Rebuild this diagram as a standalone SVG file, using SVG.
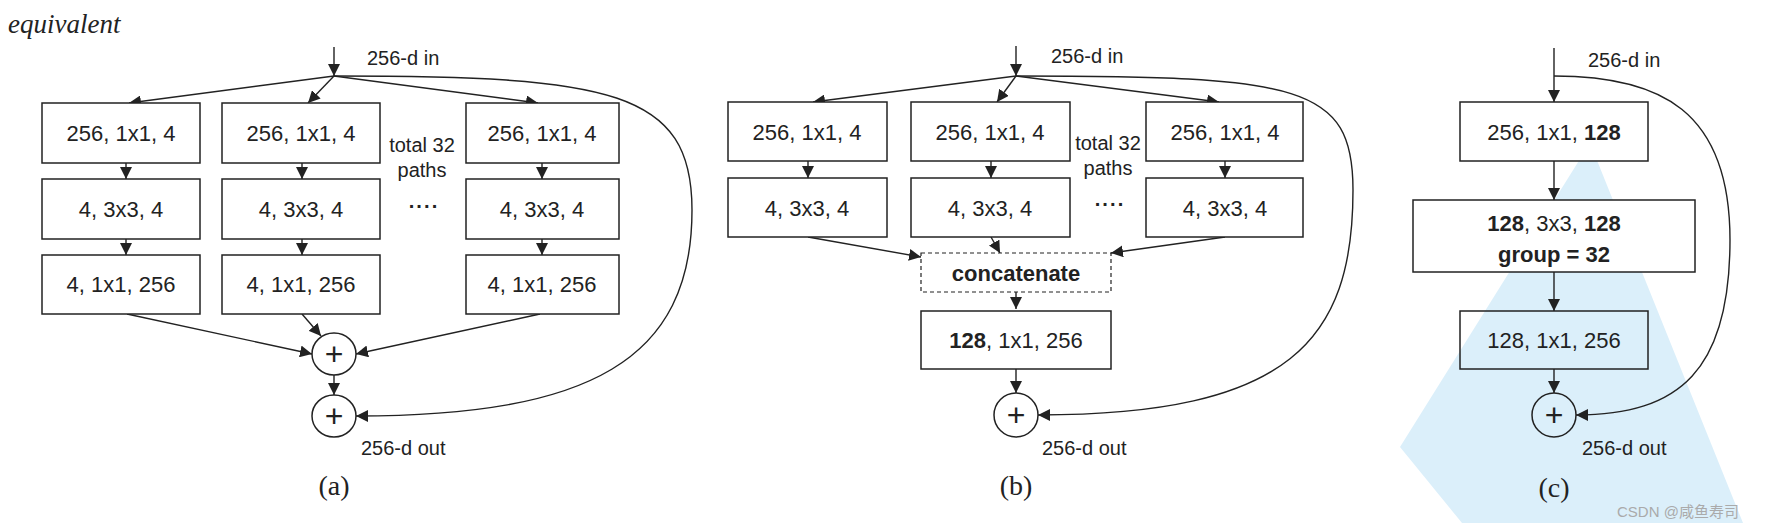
<svg xmlns="http://www.w3.org/2000/svg" width="1766" height="523" viewBox="0 0 1766 523">
<defs>
<marker id="ah" viewBox="0 0 10 10" refX="10" refY="5" markerWidth="12" markerHeight="12" markerUnits="userSpaceOnUse" orient="auto"><path d="M0,0 L10,5 L0,10 z" fill="#222"/></marker>
<style>
.b{fill:#fff;stroke:#222;stroke-width:1.5}
.t{font-family:"Liberation Sans",sans-serif;font-size:22px;fill:#222;text-anchor:middle}
.s{font-family:"Liberation Sans",sans-serif;font-size:20px;fill:#222}
.bold{font-weight:bold}
.p{font-family:"Liberation Sans",sans-serif;font-size:32px;fill:#222;text-anchor:middle}
.c{fill:none;stroke:#222;stroke-width:1.4;marker-end:url(#ah)}
.cap{font-family:"Liberation Serif",serif;font-size:28px;fill:#222;text-anchor:middle}
</style>
</defs>
<rect width="1766" height="523" fill="#fff"/>
<polygon points="1590,143 1743,523 1462,523 1400,447" fill="#dbeffa"/>
<text x="8" y="33" font-family="Liberation Serif,serif" font-style="italic" font-size="27" fill="#222">equivalent</text>

<g id="connectors">
<path class="c" d="M334,47 V76"/>
<path class="c" d="M334,76 L129,103"/>
<path class="c" d="M334,76 L308,103"/>
<path class="c" d="M334,76 L538,103"/>
<path class="c" d="M126,163 V179"/><path class="c" d="M302,163 V179"/><path class="c" d="M542,163 V179"/>
<path class="c" d="M126,239 V255"/><path class="c" d="M302,239 V255"/><path class="c" d="M542,239 V255"/>
<path class="c" d="M127,314 L312,354"/>
<path class="c" d="M302,314 L321,336"/>
<path class="c" d="M540,314 L356,354"/>
<path class="c" d="M334,375 V395"/>
<path class="c" d="M334,76 C610,76 692,90 692,210 C692,360 590,416 356,416"/>
<path class="c" d="M1016,46 V76"/>
<path class="c" d="M1016,76 L813,102"/>
<path class="c" d="M1016,76 L997,102"/>
<path class="c" d="M1016,76 L1219,102"/>
<path class="c" d="M808,161 V178"/><path class="c" d="M991,161 V178"/><path class="c" d="M1225,161 V178"/>
<path class="c" d="M808,237 L921,257"/>
<path class="c" d="M991,237 L1000,253"/>
<path class="c" d="M1225,237 L1111,253"/>
<path class="c" d="M1016,292 V309"/>
<path class="c" d="M1016,369 V393"/>
<path class="c" d="M1016,76 C1300,76 1353,85 1353,190 C1353,340 1290,415 1038,415"/>
<path class="c" d="M1554,48 V102"/>
<path class="c" d="M1554,161 V200"/>
<path class="c" d="M1554,272 V311"/>
<path class="c" d="M1554,369 V393"/>
<path class="c" d="M1554,76 C1660,76 1730,110 1730,240 C1730,370 1680,415 1576,415"/>
</g>

<g id="a-labels">
<text class="s" x="367" y="65">256-d in</text>
<text class="s" x="422" y="152" text-anchor="middle" font-size="19">total 32</text>
<text class="s" x="422" y="177" text-anchor="middle" font-size="19">paths</text>
<text class="s" x="424" y="213" text-anchor="middle" font-size="28" font-weight="bold" letter-spacing="1">····</text>
<text class="s" x="361" y="455">256-d out</text>
<text class="cap" x="334" y="495">(a)</text>
</g>
<g id="a-c1r1"><rect class="b" x="42" y="103" width="158" height="60"/><text class="t" x="121" y="141">256, 1x1, 4</text></g>
<g id="a-c1r2"><rect class="b" x="42" y="179" width="158" height="60"/><text class="t" x="121" y="217">4, 3x3, 4</text></g>
<g id="a-c1r3"><rect class="b" x="42" y="255" width="158" height="59"/><text class="t" x="121" y="292">4, 1x1, 256</text></g>
<g id="a-c2r1"><rect class="b" x="222" y="103" width="158" height="60"/><text class="t" x="301" y="141">256, 1x1, 4</text></g>
<g id="a-c2r2"><rect class="b" x="222" y="179" width="158" height="60"/><text class="t" x="301" y="217">4, 3x3, 4</text></g>
<g id="a-c2r3"><rect class="b" x="222" y="255" width="158" height="59"/><text class="t" x="301" y="292">4, 1x1, 256</text></g>
<g id="a-c3r1"><rect class="b" x="466" y="103" width="153" height="60"/><text class="t" x="542" y="141">256, 1x1, 4</text></g>
<g id="a-c3r2"><rect class="b" x="466" y="179" width="153" height="60"/><text class="t" x="542" y="217">4, 3x3, 4</text></g>
<g id="a-c3r3"><rect class="b" x="466" y="255" width="153" height="59"/><text class="t" x="542" y="292">4, 1x1, 256</text></g>
<g id="a-sum1"><ellipse class="b" cx="334" cy="354" rx="22" ry="21"/><text class="p" x="334" y="365">+</text></g>
<g id="a-sum2"><ellipse class="b" cx="334" cy="416" rx="22" ry="21"/><text class="p" x="334" y="427">+</text></g>

<g id="b-labels">
<text class="s" x="1051" y="63">256-d in</text>
<text class="s" x="1108" y="150" text-anchor="middle" font-size="19">total 32</text>
<text class="s" x="1108" y="175" text-anchor="middle" font-size="19">paths</text>
<text class="s" x="1110" y="211" text-anchor="middle" font-size="28" font-weight="bold" letter-spacing="1">····</text>
<text class="s" x="1042" y="455">256-d out</text>
<text class="cap" x="1016" y="495">(b)</text>
</g>
<g id="b-c1r1"><rect class="b" x="728" y="102" width="159" height="59"/><text class="t" x="807" y="140">256, 1x1, 4</text></g>
<g id="b-c1r2"><rect class="b" x="728" y="178" width="159" height="59"/><text class="t" x="807" y="216">4, 3x3, 4</text></g>
<g id="b-c2r1"><rect class="b" x="911" y="102" width="159" height="59"/><text class="t" x="990" y="140">256, 1x1, 4</text></g>
<g id="b-c2r2"><rect class="b" x="911" y="178" width="159" height="59"/><text class="t" x="990" y="216">4, 3x3, 4</text></g>
<g id="b-c3r1"><rect class="b" x="1146" y="102" width="157" height="59"/><text class="t" x="1225" y="140">256, 1x1, 4</text></g>
<g id="b-c3r2"><rect class="b" x="1146" y="178" width="157" height="59"/><text class="t" x="1225" y="216">4, 3x3, 4</text></g>
<g id="b-concat"><rect x="921" y="253" width="190" height="39" fill="#fff" stroke="#222" stroke-width="1.2" stroke-dasharray="4,3"/><text class="t bold" x="1016" y="281" font-size="23">concatenate</text></g>
<g id="b-proj"><rect class="b" x="921" y="311" width="190" height="58"/><text class="t" x="1016" y="348"><tspan class="bold">128</tspan>, 1x1, 256</text></g>
<g id="b-sum"><ellipse class="b" cx="1016" cy="415" rx="22" ry="22"/><text class="p" x="1016" y="426">+</text></g>

<g id="c-labels">
<text class="s" x="1588" y="67">256-d in</text>
<text class="s" x="1582" y="455">256-d out</text>
<text class="cap" x="1554" y="497">(c)</text>
<text x="1617" y="517" font-family="Liberation Sans,Noto Sans CJK SC,sans-serif" font-size="15" fill="#aaa">CSDN @咸鱼寿司</text>
</g>
<g id="c-b1"><rect class="b" x="1460" y="102" width="188" height="59"/><text class="t" x="1554" y="140">256, 1x1, <tspan class="bold">128</tspan></text></g>
<g id="c-b2"><rect class="b" x="1413" y="200" width="282" height="72"/><text class="t" x="1554" y="231"><tspan class="bold">128</tspan>, 3x3, <tspan class="bold">128</tspan></text><text class="t bold" x="1554" y="262">group = 32</text></g>
<g id="c-b3"><rect class="b" x="1460" y="311" width="188" height="58" fill-opacity="0"/><text class="t" x="1554" y="348">128, 1x1, 256</text></g>
<g id="c-sum"><ellipse class="b" cx="1554" cy="415" rx="22" ry="22" fill-opacity="0"/><text class="p" x="1554" y="426">+</text></g>
</svg>
